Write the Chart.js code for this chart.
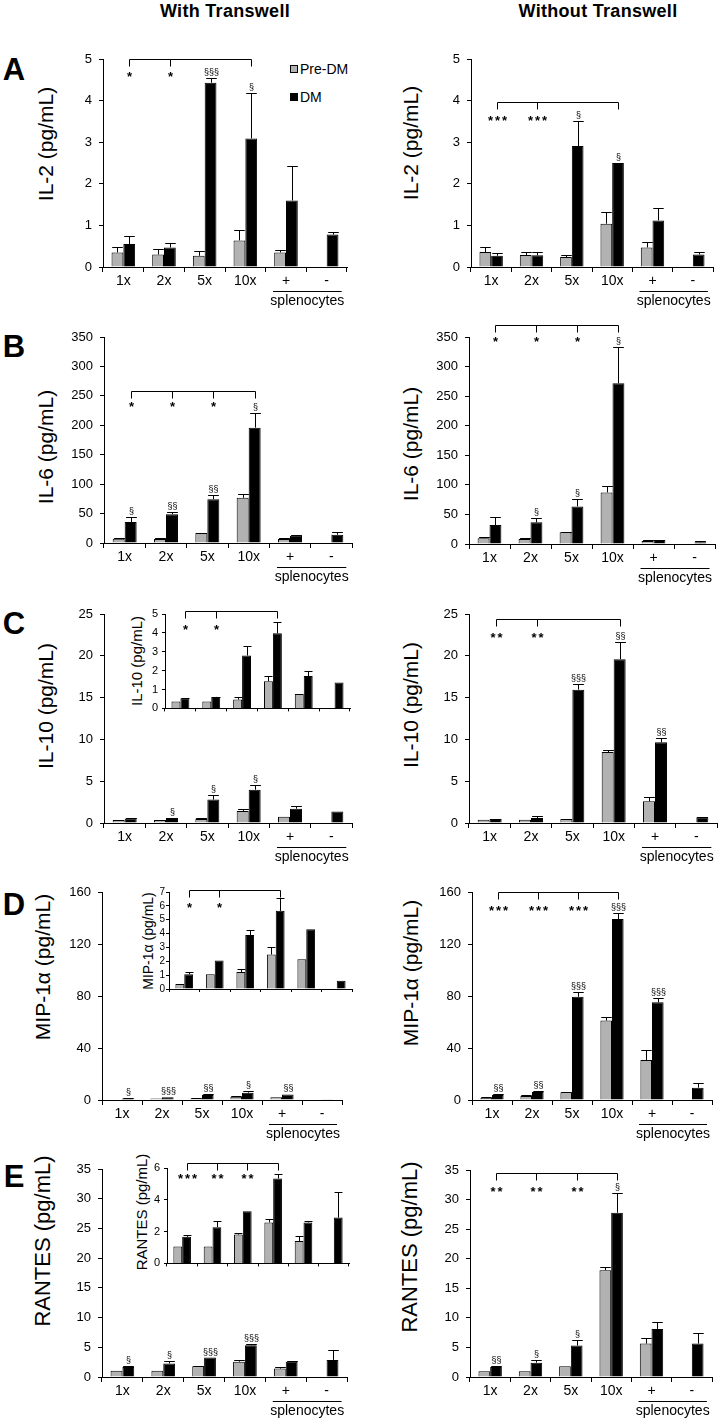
<!DOCTYPE html>
<html>
<head>
<meta charset="utf-8">
<script src="https://cdn.jsdelivr.net/npm/chart.js@4.4.1/dist/chart.umd.min.js"></script>
<style>
  body { margin: 0; width: 721px; height: 1420px; position: relative; overflow: hidden; background: #fff;
         font-family: "Liberation Sans", Arial, sans-serif; color: #000; }
  canvas { position: absolute; }
  .txt { position: absolute; white-space: nowrap; line-height: 1; }
  .sq { position: absolute; width: 6px; height: 6px; border: 1px solid #000; }
</style>
</head>
<body>
<script>
'use strict';

// CATEGORIES
const categories = ['1x', '2x', '5x', '10x', '+', '-'];

// A - IL-2 (pg/mL)
const il2WithPre = [0.35, 0.30, 0.27, 0.64, 0.35, null];
const il2WithPreErr = [0.13, 0.14, 0.11, 0.26, 0.07, null];
const il2WithDm = [0.55, 0.47, 4.43, 3.09, 1.60, 0.78];
const il2WithDmErr = [0.20, 0.11, 0.12, 1.10, 0.82, 0.06];
const il2WithSig = ['', '', '§§§', '§', '', ''];
const il2WithStars = ['*', '*', '', '', '', ''];
const il2WithBracket = 5.0;

const il2WithoutPre = [0.36, 0.29, 0.24, 1.04, 0.47, null];
const il2WithoutPreErr = [0.12, 0.06, 0.06, 0.28, 0.12, null];
const il2WithoutDm = [0.27, 0.28, 2.91, 2.50, 1.12, 0.30];
const il2WithoutDmErr = [0.07, 0.07, 0.59, null, 0.31, 0.06];
const il2WithoutSig = ['', '', '§', '§', '', ''];
const il2WithoutStars = ['***', '***', '', '', '', ''];
const il2WithoutBracket = 3.97;

// B - IL-6 (pg/mL)
const il6WithPre = [7.3, 6.8, 17, 76.8, 6.8, null];
const il6WithPreErr = [1.7, 1.7, 0.5, 6.2, 1.7, null];
const il6WithDm = [35.6, 49, 74.5, 196, 12.4, 14];
const il6WithDmErr = [7.9, 3, 6.8, 24.8, 1.1, 4];
const il6WithSig = ['§', '§§', '§§', '§', '', ''];
const il6WithStars = ['*', '*', '*', '', '', ''];
const il6WithBracket = 258.6;

const il6WithoutPre = [9.6, 8.4, 19.7, 87.2, 5, null];
const il6WithoutPreErr = [2.8, 2.3, 1.1, 10.2, 1, null];
const il6WithoutDm = [32, 36.6, 63.6, 271.8, 6.8, 2.8];
const il6WithoutDmErr = [14, 7.9, 11.8, 60.8, 0.5, 1.7];
const il6WithoutSig = ['', '§', '§', '§', '', ''];
const il6WithoutStars = ['*', '*', '*', '', '', ''];
const il6WithoutBracket = 369.7;

// C - IL-10 (pg/mL)
const il10WithPre = [0.36, 0.36, 0.47, 1.44, 0.76, null];
const il10WithPreErr = [null, null, 0.11, 0.25, null, null];
const il10WithDm = [0.54, 0.61, 2.80, 3.98, 1.71, 1.37];
const il10WithDmErr = [0.03, 0.02, 0.50, 0.61, 0.27, null];
const il10WithSig = ['', '§', '§', '§', '', ''];
const il10WithStars = ['*', '*', '', '', '', ''];
const il10WithBracket = 5.14;

const il10WithoutPre = [0.40, 0.40, 0.48, 8.49, 2.6, null];
const il10WithoutPreErr = [null, null, null, 0.28, 0.5, null];
const il10WithoutDm = [0.48, 0.60, 15.95, 19.6, 9.65, 0.68];
const il10WithoutDmErr = [null, 0.2, 0.72, 2.05, 0.52, 0.08];
const il10WithoutSig = ['', '', '§§§', '§§', '§§', ''];
const il10WithoutStars = ['**', '**', '', '', '', ''];
const il10WithoutBracket = 24.4;

// D - MIP-1a (pg/mL)
const mipWithPre = [0.36, 1.07, 1.23, 2.49, 2.14, null];
const mipWithPreErr = [null, null, 0.19, 0.55, null, null];
const mipWithDm = [1.07, 2.06, 3.89, 5.64, 4.32, 0.59];
const mipWithDmErr = [0.19, null, 0.36, 0.96, null, null];
const mipWithSig = ['§', '§§§', '§§', '§', '§§', ''];
const mipWithStars = ['*', '*', '', '', '', ''];
const mipWithBracket = 7.17;

const mipWithoutPre = [1.5, 3.1, 5.9, 61.1, 30.8, null];
const mipWithoutPreErr = [0.5, 0.5, 0.3, 2.6, 7.7, null];
const mipWithoutDm = [3.85, 6.2, 79.4, 139.2, 75.2, 9.5];
const mipWithoutDmErr = [0.55, 0.5, 3.5, 4.6, 3.1, 3.3];
const mipWithoutSig = ['§§', '§§', '§§§', '§§§', '§§§', ''];
const mipWithoutStars = ['***', '***', '***', '', '', ''];
const mipWithoutBracket = 160;

// E - RANTES (pg/mL)
const rantesWithPre = [1.07, 1.07, 1.81, 2.58, 1.41, null];
const rantesWithPreErr = [null, null, 0.10, 0.24, 0.32, null];
const rantesWithDm = [1.67, 2.28, 3.28, 5.34, 2.58, 2.88];
const rantesWithDmErr = [0.14, 0.40, null, 0.26, 0.10, 1.61];
const rantesWithSig = ['§', '§', '§§§', '§§§', '', ''];
const rantesWithStars = ['***', '**', '**', '', '', ''];
const rantesWithBracket = 6.3;

const rantesWithoutPre = [0.96, 0.96, 1.8, 18.07, 5.65, null];
const rantesWithoutPreErr = [null, null, null, 0.56, 0.95, null];
const rantesWithoutDm = [1.69, 2.43, 5.31, 27.78, 8.13, 5.65];
const rantesWithoutDmErr = [0.11, 0.51, 1.01, 3.39, 1.19, 1.8];
const rantesWithoutSig = ['§§', '§', '§', '§', '', ''];
const rantesWithoutStars = ['**', '**', '**', '', '', ''];
const rantesWithoutBracket = 34.55;


// STYLE
const FONT = '"Liberation Sans", Arial, sans-serif';
const GRAY = '#b2b2b2';
Chart.defaults.font.family = FONT;
Chart.defaults.color = '#000';


// html text helper (centred, or left-aligned when left is true)
function addText(text, cx, cy, css, rotate, left) {
  let el = document.createElement('div');
  el.className = 'txt';
  el.textContent = text;
  el.style.left = cx + 'px';
  el.style.top = cy + 'px';
  el.style.transform = (left ? 'translate(0,-50%)' : 'translate(-50%,-50%)') + (rotate ? ' rotate(-90deg)' : '');
  el.style.cssText += css;
  document.body.appendChild(el);
}

// extras drawn on top of each chart: error bars, § marks, brackets, splenocytes
function extrasPlugin(o) {
  return {
    id: 'extras',
    afterDraw(chart) {
      let ctx = chart.ctx;
      let yScale = chart.scales.y;
      let xScale = chart.scales.x;
      let area = chart.chartArea;
      ctx.save();
      ctx.strokeStyle = '#000';
      ctx.fillStyle = '#000';
      ctx.lineWidth = 1;

      // error bars (upper only)
      for (let d = 0; d < 2; d++) {
        let vals = chart.data.datasets[d].data;
        let meta = chart.getDatasetMeta(d);
        let errs = o.errs[d];
        meta.data.forEach((bar, j) => {
          if (vals[j] == null || errs[j] == null) return;
          let x = Math.round(bar.x) + 0.5;
          let yTop = Math.round(yScale.getPixelForValue(vals[j] + errs[j])) + 0.5;
          let half = bar.width * 0.45;
          ctx.beginPath();
          ctx.moveTo(x, bar.y);
          ctx.lineTo(x, yTop);
          ctx.moveTo(x - half, yTop);
          ctx.lineTo(x + half, yTop);
          ctx.stroke();
        });
      }

      let dmMeta = chart.getDatasetMeta(1);
      let dmVals = chart.data.datasets[1].data;
      let xs = dmMeta.data.map(b => Math.round(b.x) + 0.5);

      // § marks above DM bars
      if (o.sig) {
        ctx.font = '9px ' + FONT;
        ctx.textAlign = 'center';
        ctx.textBaseline = 'alphabetic';
        o.sig.forEach((s, j) => {
          if (!s) return;
          let v = dmVals[j] + (o.errs[1][j] || 0);
          ctx.fillText(s, xs[j], yScale.getPixelForValue(v) - 3);
        });
      }

      // comparison bracket with stars
      if (o.bracket != null) {
        let yb = Math.round(yScale.getPixelForValue(o.bracket)) + 0.5;
        ctx.beginPath();
        ctx.moveTo(xs[0], yb);
        ctx.lineTo(xs[3], yb);
        o.stars.forEach((s, i) => {
          if (s) {
            ctx.moveTo(xs[i], yb);
            ctx.lineTo(xs[i], yb + 7);
          }
        });
        ctx.moveTo(xs[3], yb);
        ctx.lineTo(xs[3], yb + 7);
        ctx.stroke();
        ctx.font = 'bold 13px ' + FONT;
        ctx.letterSpacing = '2px';
        ctx.textAlign = 'center';
        ctx.textBaseline = 'alphabetic';
        o.stars.forEach((s, i) => {
          if (s) ctx.fillText(s, xs[i] + 1, yb + o.starDy + 7);
        });
        ctx.letterSpacing = '0px';
      }

      // splenocytes underline
      if (o.spleno) {
        let xp = xScale.getPixelForValue(4);
        let xm = xScale.getPixelForValue(5);
        let yl = Math.round(area.bottom + 24) + 0.5;
        ctx.beginPath();
        ctx.moveTo(xp - 13, yl);
        ctx.lineTo(xm + 15, yl);
        ctx.stroke();
        ctx.font = '14px ' + FONT;
        ctx.textAlign = 'center';
        ctx.textBaseline = 'middle';
        ctx.fillText('splenocytes', (xp + xm) / 2 + 1, area.bottom + 34);
      }
      ctx.restore();
    }
  };
}

// builds one chart so that its plot area lands on x0..x1, top..bot of the page
function makePanel(p) {
  let padL = p.inset ? 26 : 50;
  let padT = 40;
  let padR = 8;
  let padB = p.inset ? 6 : 48;
  let w = p.x1 - p.x0 + padL + padR;
  let h = p.bot - p.top + padT + padB;
  let cv = document.createElement('canvas');
  cv.width = w;
  cv.height = h;
  cv.style.width = w + 'px';
  cv.style.height = h + 'px';
  cv.style.left = (p.x0 - padL) + 'px';
  cv.style.top = (p.top - padT) + 'px';
  document.body.appendChild(cv);

  let tickPad = p.tickPad != null ? p.tickPad : (p.inset ? 4 : 7);
  let tickSize = p.tickSize || (p.inset ? 11 : 13);

  return new Chart(cv, {
    type: 'bar',
    data: {
      labels: categories,
      datasets: [
        { label: 'Pre-DM', data: p.pre, backgroundColor: GRAY, borderColor: '#000', borderWidth: 1 },
        { label: 'DM', data: p.dm, backgroundColor: '#000', borderColor: '#000', borderWidth: 1 }
      ]
    },
    options: {
      responsive: false,
      animation: false,
      devicePixelRatio: 1,
      layout: { padding: { left: 0, top: padT, right: padR, bottom: 0 } },
      datasets: { bar: { categoryPercentage: 0.58, barPercentage: 1 } },
      plugins: { legend: { display: false }, tooltip: { enabled: false } },
      scales: {
        x: {
          grid: { drawOnChartArea: false, tickLength: p.inset ? 3 : 5, color: '#000', offset: true },
          border: { color: '#000', width: 1 },
          ticks: { display: !p.inset, color: '#000', font: { size: 14 }, padding: 1, autoSkip: false, maxRotation: 0 },
          afterFit: s => { s.height = padB; }
        },
        y: {
          min: 0,
          max: p.max,
          grid: { drawOnChartArea: false, tickLength: p.inset ? 3 : 4, color: '#000' },
          border: { color: '#000', width: 1 },
          ticks: { stepSize: p.step, autoSkip: false, color: '#000', font: { size: tickSize }, padding: tickPad },
          afterFit: s => { s.width = padL; }
        }
      }
    },
    plugins: [extrasPlugin({
      errs: [p.preErr, p.dmErr],
      sig: p.sig,
      bracket: p.bracket,
      stars: p.stars,
      starDy: p.starDy,
      spleno: !p.inset
    })]
  });
}


// HEADINGS
addText('With Transwell', 225, 11, 'font-weight:bold;font-size:18px;letter-spacing:0.3px;');
addText('Without Transwell', 598, 11, 'font-weight:bold;font-size:18px;letter-spacing:0.3px;');

let letters = [['A', 58], ['B', 335], ['C', 612], ['D', 893], ['E', 1165]];
letters.forEach(l => addText(l[0], 14, l[1] + 11, 'font-weight:bold;font-size:31px;'));

// legend
let sq1 = document.createElement('div');
sq1.className = 'sq';
sq1.style.cssText = 'left:290px;top:65px;background:' + GRAY + ';';
document.body.appendChild(sq1);
let sq2 = document.createElement('div');
sq2.className = 'sq';
sq2.style.cssText = 'left:290px;top:93px;background:#000;';
document.body.appendChild(sq2);
addText('Pre-DM', 300, 69, 'font-size:14px;', false, true);
addText('DM', 300, 97, 'font-size:14px;', false, true);

// y titles
addText('IL-2 (pg/mL)', 45, 144, 'font-size:21px;', true);
addText('IL-2 (pg/mL)', 410, 143, 'font-size:21px;', true);
addText('IL-6 (pg/mL)', 45, 447, 'font-size:21px;', true);
addText('IL-6 (pg/mL)', 410, 444, 'font-size:21px;', true);
addText('IL-10 (pg/mL)', 45, 706, 'font-size:21px;', true);
addText('IL-10 (pg/mL)', 410, 705, 'font-size:21px;', true);
addText('MIP-1α (pg/mL)', 42, 967, 'font-size:21px;', true);
addText('MIP-1α (pg/mL)', 410, 973, 'font-size:21px;', true);
addText('RANTES (pg/mL)', 43, 1241, 'font-size:22px;', true);
addText('RANTES (pg/mL)', 410, 1247, 'font-size:22px;', true);
// inset titles
addText('IL-10 (pg/mL)', 136, 661, 'font-size:15px;', true);
addText('MIP-1α (pg/mL)', 148, 941, 'font-size:14px;', true);
addText('RANTES (pg/mL)', 141, 1212, 'font-size:15px;', true);


// PANELS
// A
makePanel({ x0: 103, x1: 347, top: 59, bot: 267, max: 5, step: 1,
  pre: il2WithPre, preErr: il2WithPreErr, dm: il2WithDm, dmErr: il2WithDmErr,
  sig: il2WithSig, stars: il2WithStars, bracket: il2WithBracket, starDy: 14 });
makePanel({ x0: 471, x1: 713, top: 59, bot: 267, max: 5, step: 1,
  pre: il2WithoutPre, preErr: il2WithoutPreErr, dm: il2WithoutDm, dmErr: il2WithoutDmErr,
  sig: il2WithoutSig, stars: il2WithoutStars, bracket: il2WithoutBracket, starDy: 15 });

// B
makePanel({ x0: 104, x1: 352, top: 337, bot: 543, max: 350, step: 50,
  pre: il6WithPre, preErr: il6WithPreErr, dm: il6WithDm, dmErr: il6WithDmErr,
  sig: il6WithSig, stars: il6WithStars, bracket: il6WithBracket, starDy: 12 });
makePanel({ x0: 469, x1: 715, top: 337, bot: 544, max: 350, step: 50,
  pre: il6WithoutPre, preErr: il6WithoutPreErr, dm: il6WithoutDm, dmErr: il6WithoutDmErr,
  sig: il6WithoutSig, stars: il6WithoutStars, bracket: il6WithoutBracket, starDy: 13 });

// C
makePanel({ x0: 104, x1: 352, top: 614, bot: 823, max: 25, step: 5,
  pre: il10WithPre, preErr: il10WithPreErr, dm: il10WithDm, dmErr: il10WithDmErr,
  sig: il10WithSig });
makePanel({ x0: 165, x1: 350, top: 614, bot: 713, max: 5, step: 1, inset: true,
  pre: il10WithPre, preErr: il10WithPreErr, dm: il10WithDm, dmErr: il10WithDmErr,
  stars: il10WithStars, bracket: il10WithBracket, starDy: 15 });
makePanel({ x0: 469, x1: 717, top: 614, bot: 823, max: 25, step: 5,
  pre: il10WithoutPre, preErr: il10WithoutPreErr, dm: il10WithoutDm, dmErr: il10WithoutDmErr,
  sig: il10WithoutSig, stars: il10WithoutStars, bracket: il10WithoutBracket, starDy: 15 });

// D
makePanel({ x0: 102, x1: 342, top: 892, bot: 1100, max: 160, step: 40,
  pre: mipWithPre, preErr: mipWithPreErr, dm: mipWithDm, dmErr: mipWithDmErr,
  sig: mipWithSig });
makePanel({ x0: 169, x1: 352, top: 892, bot: 990, max: 7, step: 1, inset: true, tickPad: 1, tickSize: 10,
  pre: mipWithPre, preErr: mipWithPreErr, dm: mipWithDm, dmErr: mipWithDmErr,
  stars: mipWithStars, bracket: mipWithBracket, starDy: 14 });
makePanel({ x0: 472, x1: 712, top: 892, bot: 1100, max: 160, step: 40,
  pre: mipWithoutPre, preErr: mipWithoutPreErr, dm: mipWithoutDm, dmErr: mipWithoutDmErr,
  sig: mipWithoutSig, stars: mipWithoutStars, bracket: mipWithoutBracket, starDy: 15 });

// E
makePanel({ x0: 102, x1: 347, top: 1169, bot: 1377, max: 35, step: 5,
  pre: rantesWithPre, preErr: rantesWithPreErr, dm: rantesWithDm, dmErr: rantesWithDmErr,
  sig: rantesWithSig });
makePanel({ x0: 167, x1: 349, top: 1168, bot: 1268, max: 6, step: 2, inset: true,
  pre: rantesWithPre, preErr: rantesWithPreErr, dm: rantesWithDm, dmErr: rantesWithDmErr,
  stars: rantesWithStars, bracket: rantesWithBracket, starDy: 12 });
makePanel({ x0: 470, x1: 712, top: 1170, bot: 1377, max: 35, step: 5,
  pre: rantesWithoutPre, preErr: rantesWithoutPreErr, dm: rantesWithoutDm, dmErr: rantesWithoutDmErr,
  sig: rantesWithoutSig, stars: rantesWithoutStars, bracket: rantesWithoutBracket, starDy: 15 });
</script>
</body>
</html>
